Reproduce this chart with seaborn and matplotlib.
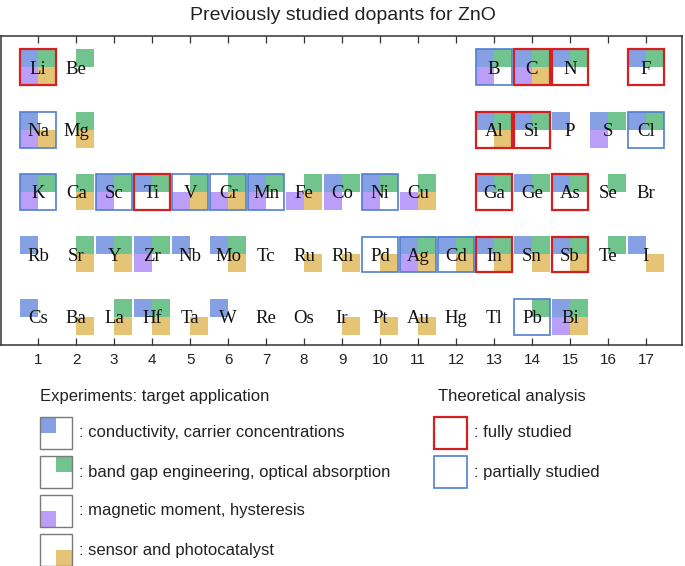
import numpy as np
import pandas as pd
import matplotlib
matplotlib.use("Agg")
import matplotlib.pyplot as plt
import seaborn as sns
from matplotlib.patches import Rectangle

# Elements shown in the table (symbol, group, period)
symbols = ["Li", "Be", "B", "C", "N", "F",
           "Na", "Mg", "Al", "Si", "P", "S", "Cl",
           "K", "Ca", "Sc", "Ti", "V", "Cr", "Mn", "Fe", "Co", "Ni", "Cu",
           "Ga", "Ge", "As", "Se", "Br",
           "Rb", "Sr", "Y", "Zr", "Nb", "Mo", "Tc", "Ru", "Rh", "Pd", "Ag",
           "Cd", "In", "Sn", "Sb", "Te", "I",
           "Cs", "Ba", "La", "Hf", "Ta", "W", "Re", "Os", "Ir", "Pt", "Au",
           "Hg", "Tl", "Pb", "Bi"]
groups = [1, 2, 13, 14, 15, 17,
          1, 2, 13, 14, 15, 16, 17,
          1, 2, 3, 4, 5, 6, 7, 8, 9, 10, 11, 13, 14, 15, 16, 17,
          1, 2, 3, 4, 5, 6, 7, 8, 9, 10, 11, 12, 13, 14, 15, 16, 17,
          1, 2, 3, 4, 5, 6, 7, 8, 9, 10, 11, 12, 13, 14, 15]
periods = [2] * 6 + [3] * 7 + [4] * 16 + [5] * 17 + [6] * 15

# Experimental target applications
conductivity = ["Li", "B", "C", "N", "F", "Na", "Al", "Si", "P", "S", "Cl",
                "K", "Sc", "Ti", "Mn", "Co", "Ni", "Ga", "Ge", "As",
                "Rb", "Y", "Zr", "Nb", "Mo", "Ag", "Cd", "In", "Sn", "Sb", "I",
                "Cs", "Hf", "W", "Bi"]
band_gap = ["Li", "Be", "B", "C", "N", "F", "Mg", "Al", "Si", "S", "Cl",
            "K", "Ca", "Sc", "Ti", "V", "Cr", "Mn", "Fe", "Co", "Ni", "Cu",
            "Ga", "Ge", "As", "Se", "Sr", "Y", "Zr", "Mo", "Ag", "Cd", "In",
            "Sn", "Sb", "Te", "La", "Hf", "Pb", "Bi"]
magnetic = ["Li", "B", "C", "Na", "S", "K", "Sc", "V", "Cr", "Mn", "Fe",
            "Co", "Ni", "Cu", "Zr", "Ag", "Bi"]
sensor = ["Li", "C", "Na", "Mg", "Al", "Ca", "V", "Cr", "Fe", "Cu", "Sr",
          "Y", "Mo", "Ru", "Rh", "Pd", "Ag", "Cd", "In", "Sn", "Sb", "I",
          "Ba", "La", "Hf", "Ta", "Ir", "Pt", "Au", "Bi"]

# Theoretical analysis
fully_studied = ["Li", "C", "N", "F", "Al", "Si", "Ti", "Ga", "As", "In", "Sb"]
partially_studied = ["B", "Na", "Cl", "K", "Sc", "V", "Cr", "Mn", "Ni",
                     "Pd", "Ag", "Cd", "Pb"]

exp_labels = [": conductivity, carrier concentrations",
              ": band gap engineering, optical absorption",
              ": magnetic moment, hysteresis",
              ": sensor and photocatalyst"]
theory_labels = [": fully studied", ": partially studied"]
group_ticks = list(range(1, 18))

app_colors = {"cond": "#86a0e4", "gap": "#72c48e",
              "mag": "#bb9ef7", "sens": "#e5c475"}
# quadrant corner for each application (x sign, y sign; y axis inverted)
corner = {"cond": (-1, -1), "gap": (1, -1), "mag": (-1, 1), "sens": (1, 1)}
red = "#d42020"
blue = "#4f7fcf"

sns.set_style("white")
plt.rcParams["font.family"] = ["Liberation Sans", "DejaVu Sans"]

W, H = 685, 566
fig = plt.figure(figsize=(W / 100, H / 100), dpi=100)
ax = fig.add_axes([1 / W, 1 - 345 / H, 681 / W, 309 / H])
ax.set_xlim(0.02, 17.95)
ax.set_ylim(6.45, 1.5)

box_w, box_h = 0.947, 0.576
box_px = 36
elem = pd.DataFrame({"sym": symbols, "group": groups, "period": periods}).set_index("sym")

rows = []
for app, members in [("cond", conductivity), ("gap", band_gap),
                     ("mag", magnetic), ("sens", sensor)]:
    sx, sy = corner[app]
    for s in members:
        rows.append({"x": elem.loc[s, "group"] + sx * box_w / 4,
                     "y": elem.loc[s, "period"] + sy * box_h / 4,
                     "app": app})
quad = pd.DataFrame(rows)

sns.scatterplot(data=quad, x="x", y="y", hue="app", palette=app_colors,
                marker="s", s=(box_px / 2 * 0.72) ** 2, linewidth=0,
                legend=False, ax=ax, zorder=2)

for s, color, lw in [(s, red, 1.6) for s in fully_studied] + \
                    [(s, blue, 1.2) for s in partially_studied]:
    g, p = elem.loc[s, "group"], elem.loc[s, "period"]
    ax.add_patch(Rectangle((g - box_w / 2, p - box_h / 2), box_w, box_h,
                           fill=False, ec=color, lw=lw, zorder=3))

for s in symbols:
    ax.text(elem.loc[s, "group"], elem.loc[s, "period"] + 0.03, s,
            ha="center", va="center", fontsize=13.5,
            family=["Liberation Serif", "DejaVu Serif"], color="#111111", zorder=4)

ax.set_xlabel("")
ax.set_ylabel("")
ax.set_xticks(group_ticks)
ax.set_xticklabels([str(g) for g in group_ticks])
ax.set_yticks([])
ax.tick_params(axis="x", direction="in", top=True, bottom=True, length=5,
               width=0.9, color="#333333", labelsize=11, pad=6,
               labelcolor="#222222")
for sp in ax.spines.values():
    sp.set_color("#333333")
    sp.set_linewidth(1.1)

fig.text(0.5, 1 - 16 / H, "Previously studied dopants for ZnO",
         ha="center", va="center", fontsize=14, color="#222222")

# Legend drawn in a pixel-based overlay
lax = fig.add_axes([0, 0, 1, 1], zorder=-1)
lax.set_xlim(0, W)
lax.set_ylim(H, 0)
lax.axis("off")

lax.text(40, 397, "Experiments: target application", ha="left", va="center",
         fontsize=12, color="#222222")
lax.text(438, 397, "Theoretical analysis", ha="left", va="center",
         fontsize=12, color="#222222")

lb, step, top0 = 32, 39, 417
for i, (app, label) in enumerate(zip(["cond", "gap", "mag", "sens"], exp_labels)):
    y0 = top0 + i * step
    sx, sy = corner[app]
    qx = 40 if sx < 0 else 40 + lb / 2
    qy = y0 if sy < 0 else y0 + lb / 2
    lax.add_patch(Rectangle((qx, qy), lb / 2, lb / 2, color=app_colors[app], lw=0))
    lax.add_patch(Rectangle((40, y0), lb, lb, fill=False, ec="#7a7a7a", lw=1.0))
    lax.text(79, y0 + lb / 2, label, ha="left", va="center", fontsize=12,
             color="#222222")

for i, (color, lw, label) in enumerate(zip([red, blue], [1.6, 1.2], theory_labels)):
    y0 = top0 + i * step
    lax.add_patch(Rectangle((434, y0), 33, lb, fill=False, ec=color, lw=lw))
    lax.text(474, y0 + lb / 2, label, ha="left", va="center", fontsize=12,
             color="#222222")

fig.savefig("out.png", dpi=100)
